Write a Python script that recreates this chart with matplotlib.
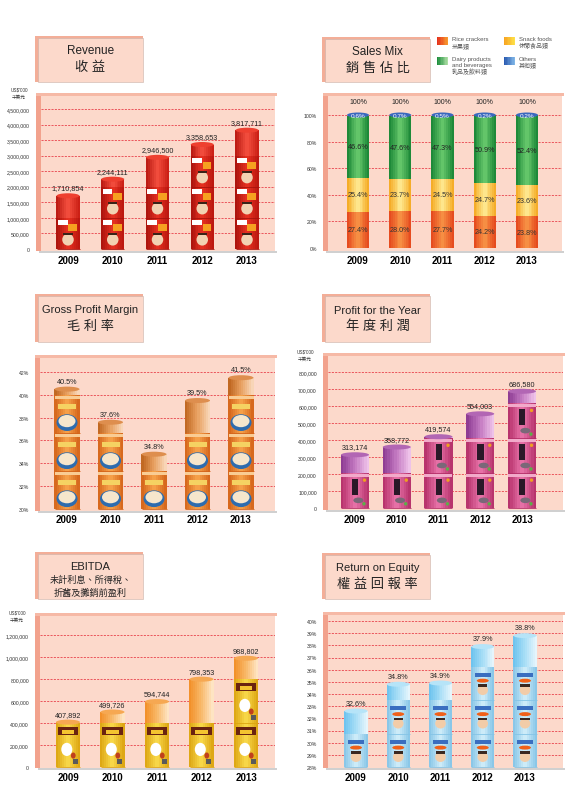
import numpy as np
import matplotlib
matplotlib.use('Agg')
import matplotlib.pyplot as plt
import matplotlib.colors as mcolors
from matplotlib.patches import Rectangle, Ellipse

plt.rcParams['font.family'] = ['Liberation Sans', 'Noto Sans CJK TC', 'DejaVu Sans']

# ---- data ----
years = ['2009', '2010', '2011', '2012', '2013']
revenue = [1710854, 2244111, 2946500, 3358653, 3817711]
mix_rice = [27.4, 28.0, 27.7, 24.2, 23.8]
mix_snack = [25.4, 23.7, 24.5, 24.7, 23.6]
mix_dairy = [46.6, 47.6, 47.3, 50.9, 52.4]
mix_others = [0.6, 0.7, 0.5, 0.2, 0.2]
gross_margin = [40.5, 37.6, 34.8, 39.5, 41.5]
profit = [313174, 358772, 419574, 554003, 686580]
ebitda = [407892, 499726, 594744, 798353, 988802]
roe = [32.6, 34.8, 34.9, 37.9, 38.8]

revenue_ticks = list(range(0, 4500001, 500000))
mix_ticks = [0, 20, 40, 60, 80, 100]
margin_ticks = [30, 32, 34, 36, 38, 40, 42]
profit_ticks = list(range(0, 800001, 100000))
ebitda_ticks = list(range(0, 1200001, 200000))
roe_ticks = list(range(28, 41))

mix_legend = ['Rice crackers\n米果類', 'Snack foods\n休閒食品類',
              'Dairy products\nand beverages\n乳品及飲料類', 'Others\n其他類']

W, H = 569, 812
fig = plt.figure(figsize=(W / 100, H / 100), dpi=100)
fig.patch.set_facecolor('white')

PINK = '#FCD9CB'
SIDE = '#F2A28D'
TOP = '#F6B9A6'
GRID = '#E8404A'


def fx(x):
    return x / W


def fy(y):
    return 1 - y / H


def fig_rect(x0, y0, x1, y1, **kw):
    fig.patches.append(Rectangle((fx(x0), fy(y1)), (x1 - x0) / W, (y1 - y0) / H,
                                 transform=fig.transFigure, **kw))


def fig_grad(x0, y0, x1, y1, cols, n=8):
    cm = mcolors.LinearSegmentedColormap.from_list('g', cols)
    for i in range(n):
        fig_rect(x0 + (x1 - x0) * i / n, y0, x0 + (x1 - x0) * (i + 1) / n + 0.3, y1,
                 facecolor=cm((i + 0.5) / n), lw=0)


def title_box(x0, y0, x1, y1, lines):
    fig_rect(x0, y0, x1, y1, facecolor='#F3AE98', lw=0)
    fig_rect(x0 + 3, y0 + 2, x1, y1, facecolor='#FCD9CB', edgecolor='#C9B2AA', lw=0.4)
    cx = (x0 + 3 + x1) / 2
    for t, y, s in lines:
        fig.text(fx(cx), fy(y), t, fontsize=s, ha='center', va='center', color='#222222')


def panel(box, zero_px, top_px, v_zero, v_top, c0, step, ticks, labels, year_y):
    x0, y0, x1, y1 = box
    fig_rect(x0, y0, x0 + 5, y1, facecolor=SIDE, lw=0)
    fig_rect(x0, y0, x1 + 2, y0 + 3, facecolor=TOP, lw=0)
    fig_rect(x0 + 3, y1, x1 + 2, y1 + 2, facecolor='#D0D0D0', lw=0)
    ax = fig.add_axes([fx(x0 + 5), fy(y1), (x1 - x0 - 5) / W, (y1 - y0 - 3) / H])
    dpp = (v_top - v_zero) / (zero_px - top_px)
    ax.set_ylim(v_zero - (y1 - zero_px) * dpp, v_zero + (zero_px - y0 - 3) * dpp)
    ax.set_xlim((x0 + 5 - c0) / step, (x1 - c0) / step)
    ax.set_facecolor(PINK)
    for s in ax.spines.values():
        s.set_visible(False)
    for t in ticks[1:]:
        ax.axhline(t, color=GRID, lw=0.6, ls=(0, (2.5, 1.5)), zorder=1)
    ax.set_yticks(ticks, labels)
    ax.tick_params(axis='y', length=0, pad=8, labelsize=3.7, labelcolor='#333333')
    ax.set_xticks(range(len(years)), years)
    ax.tick_params(axis='x', length=0, pad=(year_y - 5 - y1) * 0.72, labelsize=7)
    for lab in ax.get_xticklabels():
        lab.set_fontweight('bold')
    return ax, dpp


def gbar(ax, x, w, y0, y1, cols, n=12, z=3):
    cm = mcolors.LinearSegmentedColormap.from_list('b', cols)
    xs = x - w / 2 + (np.arange(n) + 0.5) * w / n
    ax.bar(xs, y1 - y0, width=w / n * 1.05, bottom=y0,
           color=cm((np.arange(n) + 0.5) / n), lw=0, zorder=z)


def pack(ax, x, w, y0, y1, body, deco):
    gbar(ax, x, w, y0, y1, body)
    h = y1 - y0
    for kind, rx, ry, rw, rh, col in deco:
        if kind == 'r':
            ax.add_patch(Rectangle((x + rx * w, y0 + ry * h), rw * w, rh * h,
                                   facecolor=col, lw=0, zorder=4))
        else:
            ax.add_patch(Ellipse((x + rx * w, y0 + ry * h), rw * w, rh * h,
                                 facecolor=col, lw=0, zorder=4))
    ax.plot([x - w / 2, x + w / 2], [y0, y0], color=body[0], lw=0.6, zorder=5,
            solid_capstyle='butt')


def product_bars(ax, dpp, step, values, base, unit, w_px, body, deco, cap, cap_top, fmt):
    w = w_px / step
    eh = 5 * dpp
    for i, v in enumerate(values):
        n = int((v - base) // unit)
        top_pack = base + n * unit
        for k in range(n):
            pack(ax, i, w, base + k * unit, base + (k + 1) * unit, body, deco)
        if v > top_pack:
            gbar(ax, i, w, top_pack, v, cap)
            ax.add_patch(Ellipse((i, v), w, eh, facecolor=cap_top, lw=0, zorder=4))
        ax.annotate(fmt(v), (i, v), xytext=(0, 3.2), textcoords='offset points',
                    ha='center', va='bottom', fontsize=5.2, color='#222222')


def money(v):
    return '{:,}'.format(v)


def pct(v):
    return '{:.1f}%'.format(v)


# ---- Revenue ----
title_box(35, 37, 143, 83, [('Revenue', 51, 8.5), ('收 益', 68, 9.5)])
fig.text(fx(19), fy(90), "US$'000", fontsize=3.3, ha='center', va='center', color='#333333')
fig.text(fx(19), fy(97), '千美元', fontsize=3.3, ha='center', va='center', color='#333333')
ax, dpp = panel((36, 94, 275, 252), 250, 110, 0, 4500000, 68, 44.75,
                revenue_ticks, [money(t) for t in revenue_ticks], 261)
product_bars(ax, dpp, 44.75, revenue, 0, 1000000, 23,
             ['#A8120C', '#E83222', '#B8160E'],
             [('r', -0.44, 0.76, 0.42, 0.16, '#FFFFFF'),
              ('r', 0.02, 0.58, 0.38, 0.22, '#F6A020'),
              ('e', 0.0, 0.3, 0.5, 0.38, '#F2D2B2'),
              ('r', -0.2, 0.44, 0.4, 0.08, '#3A2418')],
             ['#B81810', '#F55040', '#C81C12'], '#EE4030', money)

# ---- Sales Mix ----
title_box(322, 38, 430, 83, [('Sales Mix', 52, 8.5), ('銷 售 佔 比', 69, 9.5)])
ax, dpp = panel((323, 94, 562, 252), 249, 116, 0, 100, 358, 42.25,
                mix_ticks, ['{}%'.format(t) for t in mix_ticks], 261)
w = 22 / 42.25
for i in range(len(years)):
    r, s, d, o = mix_rice[i], mix_snack[i], mix_dairy[i], mix_others[i]
    gbar(ax, i, w, 0, r, ['#E4461C', '#F89446', '#E4461C'])
    gbar(ax, i, w, r, r + s, ['#F4A820', '#FFEC96', '#F4A820'])
    gbar(ax, i, w, r + s, r + s + d, ['#188434', '#6ACB6E', '#188434'])
    ax.add_patch(Ellipse((i, 100), w, 5 * dpp, facecolor='#3A68BE', lw=0, zorder=4))
    ax.text(i, r / 2, pct(r), ha='center', va='center', fontsize=5.2, color='#333333', zorder=6)
    ax.text(i, r + s / 2, pct(s), ha='center', va='center', fontsize=5.2, color='#333333', zorder=6)
    ax.text(i, r + s + d / 2, pct(d), ha='center', va='center', fontsize=5.2, color='#222222', zorder=6)
    ax.text(i, 100, pct(o), ha='center', va='center', fontsize=4.6, color='white', zorder=6)
    ax.text(i, r + s + d + o + 9.8, '100%', ha='center', va='center', fontsize=5, color='#222222')

legend_cols = [['#E42C1C', '#F8A030'], ['#F6A020', '#FFE44A'],
               ['#168A38', '#B8E4AC'], ['#2656AE', '#86BCEA']]
legend_pos = [(437, 38), (504, 38), (437, 58), (504, 58)]
for (lx, ly), cols, lab in zip(legend_pos, legend_cols, mix_legend):
    fig_grad(lx, ly, lx + 11, ly + 8, cols)
    fig.text(fx(lx + 15), fy(ly - 1), lab, fontsize=4.3, ha='left', va='top',
             color='#555555', linespacing=1.15)

# ---- Gross Profit Margin ----
title_box(35, 295, 143, 343, [('Gross Profit Margin', 310, 8), ('毛 利 率', 327, 9.5)])
ax, dpp = panel((35, 356, 275, 512), 510, 373, 30, 42, 67, 43.5,
                margin_ticks, ['{}%'.format(t) for t in margin_ticks], 520)
product_bars(ax, dpp, 43.5, gross_margin, 30, 10 / 3, 25,
             ['#D4641A', '#F8A44C', '#D4641A'],
             [('r', -0.5, 0.9, 1.0, 0.07, '#F9CC94'),
              ('r', -0.36, 0.62, 0.72, 0.13, '#F5D262'),
              ('e', 0.0, 0.27, 0.84, 0.44, '#2E6CAE'),
              ('e', 0.0, 0.31, 0.68, 0.32, '#F6E6CC')],
             ['#BE641E', '#E8A060', '#F9DABE'], '#DE8E4E', pct)

# ---- Profit for the Year ----
title_box(322, 295, 430, 343, [('Profit for the Year', 311, 8), ('年 度 利 潤', 327, 9.5)])
fig.text(fx(305), fy(352), "US$'000", fontsize=3.3, ha='center', va='center', color='#333333')
fig.text(fx(305), fy(359), '千美元', fontsize=3.3, ha='center', va='center', color='#333333')
ax, dpp = panel((323, 354, 563, 511), 509, 373, 0, 800000, 355, 41.75,
                profit_ticks, [money(t) for t in profit_ticks], 520)
product_bars(ax, dpp, 41.75, profit, 0, 205000, 28,
             ['#B42E68', '#EA76AC', '#B42E68'],
             [('r', -0.5, 0.9, 1.0, 0.08, '#F2AACA'),
              ('r', -0.1, 0.38, 0.22, 0.46, '#2A1828'),
              ('e', 0.12, 0.22, 0.36, 0.16, '#7A6878'),
              ('e', 0.34, 0.8, 0.12, 0.1, '#F0A020'),
              ('e', 0.32, 0.12, 0.12, 0.1, '#5CB048')],
             ['#8A3890', '#C47AC2', '#F2C8EC'], '#B266B4', money)

# ---- EBITDA ----
title_box(35, 553, 143, 600, [('EBITDA', 567, 8), ('未計利息、所得稅、', 580, 6.6),
                              ('折舊及攤銷前盈利', 593, 6.6)])
fig.text(fx(17), fy(613), "US$'000", fontsize=3.3, ha='center', va='center', color='#333333')
fig.text(fx(17), fy(620), '千美元', fontsize=3.3, ha='center', va='center', color='#333333')
ax, dpp = panel((35, 614, 275, 769), 768, 636, 0, 1200000, 68, 44.5,
                ebitda_ticks, [money(t) for t in ebitda_ticks], 778)
product_bars(ax, dpp, 44.5, ebitda, 0, 400000, 24,
             ['#DCA410', '#F9DA4C', '#DCA410'],
             [('r', -0.42, 0.72, 0.84, 0.2, '#6A2410'),
              ('r', -0.26, 0.76, 0.52, 0.08, '#F4C430'),
              ('e', -0.05, 0.4, 0.46, 0.3, '#FFFFFF'),
              ('e', 0.22, 0.26, 0.2, 0.14, '#C0401C'),
              ('r', 0.2, 0.06, 0.2, 0.13, '#5A5A5A')],
             ['#F28E26', '#F8B868', '#FEE8CA'], '#F6A852', money)

# ---- Return on Equity ----
title_box(322, 554, 430, 600, [('Return on Equity', 568, 8), ('權 益 回 報 率', 585, 9.5)])
ax, dpp = panel((323, 613, 563, 769), 768, 622, 28, 40, 356, 42.25,
                roe_ticks, ['{}%'.format(t) for t in roe_ticks], 778)
product_bars(ax, dpp, 42.25, roe, 28, 2.75, 23,
             ['#84C4E6', '#D2EEFA', '#84C4E6'],
             [('r', -0.34, 0.7, 0.68, 0.12, '#3A6EC0'),
              ('e', 0.0, 0.58, 0.52, 0.12, '#F06018'),
              ('e', 0.0, 0.3, 0.46, 0.3, '#F2CCA8'),
              ('r', -0.2, 0.4, 0.4, 0.07, '#3A2820')],
             ['#6AC2EE', '#A8DEF6', '#EAF7FD'], '#B6E4F8', pct)

fig.savefig('out.png', dpi=100)
